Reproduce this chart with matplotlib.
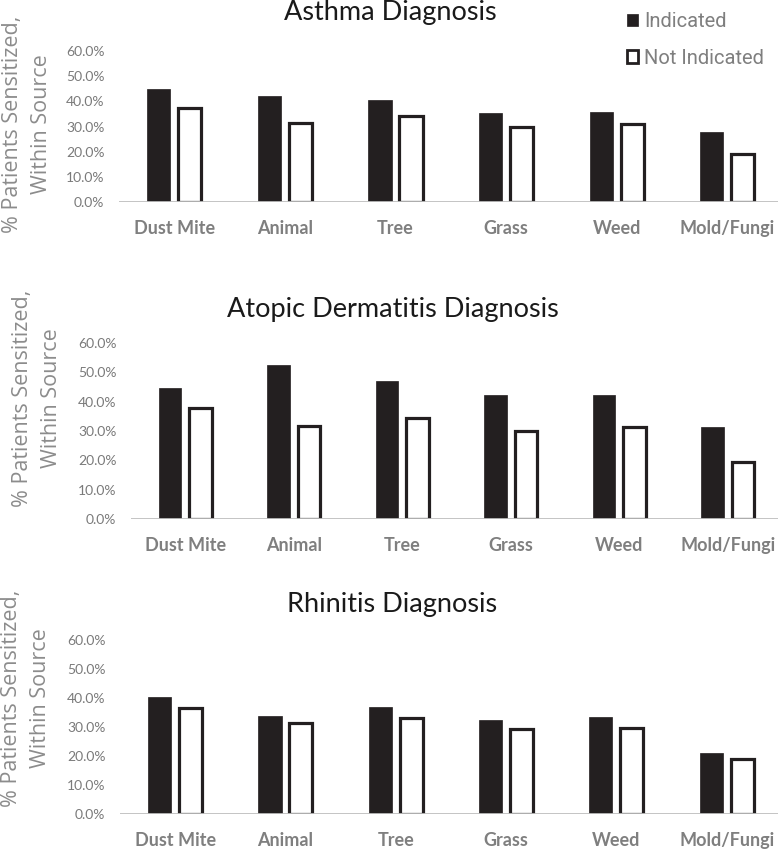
import numpy as np
import matplotlib.pyplot as plt
from matplotlib.ticker import PercentFormatter
from matplotlib.patches import Patch

# Allergen sources and sensitization rates (fraction of patients)
categories = ['Dust Mite', 'Animal', 'Tree', 'Grass', 'Weed', 'Mold/Fungi']

asthma_ind = [0.450, 0.420, 0.405, 0.355, 0.357, 0.280]
asthma_not = [0.375, 0.315, 0.343, 0.300, 0.310, 0.192]

derm_ind = [0.447, 0.525, 0.470, 0.424, 0.423, 0.312]
derm_not = [0.378, 0.316, 0.344, 0.301, 0.312, 0.195]

rhin_ind = [0.403, 0.337, 0.368, 0.323, 0.336, 0.211]
rhin_not = [0.365, 0.313, 0.330, 0.292, 0.298, 0.189]

titles = ['Asthma Diagnosis', 'Atopic Dermatitis Diagnosis', 'Rhinitis Diagnosis']
yticks = [0.0, 0.1, 0.2, 0.3, 0.4, 0.5, 0.6]

W, H = 778, 850
fig = plt.figure(figsize=(W / 100, H / 100), dpi=100)

# panel boxes in pixels: left, top(60%), bottom(0%), group spacing
boxes = [(119, 51, 202, 110.6), (131, 343, 519, 108.5), (120, 640, 814, 110.3)]
ylab_pos = [(27, 124), (37, 398), (26, 698)]
title_base = [20, 317, 612]
title_x = [390, 393, 392]

dark = '#231f20'
grey = '#7f7f7f'
x = np.arange(len(categories))
bw = 0.21
off = 0.14

panels = [(asthma_ind, asthma_not), (derm_ind, derm_not), (rhin_ind, rhin_not)]

for i, (ind, notind) in enumerate(panels):
    left, top, bot, sp = boxes[i]
    ax = fig.add_axes([left / W, (H - bot) / H, 6 * sp / W, (bot - top) / H])
    ax.bar(x - off, ind, bw, color=dark, edgecolor=dark, linewidth=0.5, zorder=2)
    ax.bar(x + off, notind, bw, facecolor='white', edgecolor=dark, linewidth=2.3, zorder=2)
    ax.axhline(0, color='#bfbfbf', linewidth=2, zorder=3)
    ax.set_xlim(-0.5, 5.5)
    ax.set_ylim(0, 0.6)
    ax.set_yticks(yticks)
    ax.yaxis.set_major_formatter(PercentFormatter(1.0, decimals=1))
    ax.set_xticks(x)
    ax.set_xticklabels(categories, fontfamily='Lato', fontweight='bold', fontsize=13, color=grey)
    ax.tick_params(axis='x', length=0, pad=13)
    ax.tick_params(axis='y', length=0, pad=10.5, labelsize=10, labelcolor='#7a7a7a')
    for lab in ax.get_yticklabels():
        lab.set_fontfamily('Lato')
    for s in ax.spines.values():
        s.set_visible(False)
    ax.set_facecolor('none')
    fig.text(title_x[i] / W, 1 - title_base[i] / H, titles[i], ha='center', va='baseline',
             fontsize=19.5, fontfamily='Lato', color='#1a1a1a')
    lx, ly = ylab_pos[i]
    fig.text(lx / W, 1 - ly / H, '% Patients Sensitized,\nWithin Source', rotation=90,
             ha='center', va='center', multialignment='center', linespacing=1.45,
             fontsize=15.5, fontfamily='Open Sans', color='#8c8c8c')

handles = [Patch(facecolor=dark, edgecolor=dark, linewidth=0.5),
           Patch(facecolor='white', edgecolor=dark, linewidth=2)]
fig.legend(handles, ['Indicated', 'Not Indicated'], loc='center left',
           bbox_to_anchor=(617 / W, 1 - 40 / H), frameon=False, borderpad=0,
           prop={'family': 'Roboto', 'size': 14.5}, labelcolor='#7f7f7f',
           handlelength=0.55, handleheight=0.55, handletextpad=0.3, labelspacing=0.85)

fig.savefig('out.png', dpi=100)
